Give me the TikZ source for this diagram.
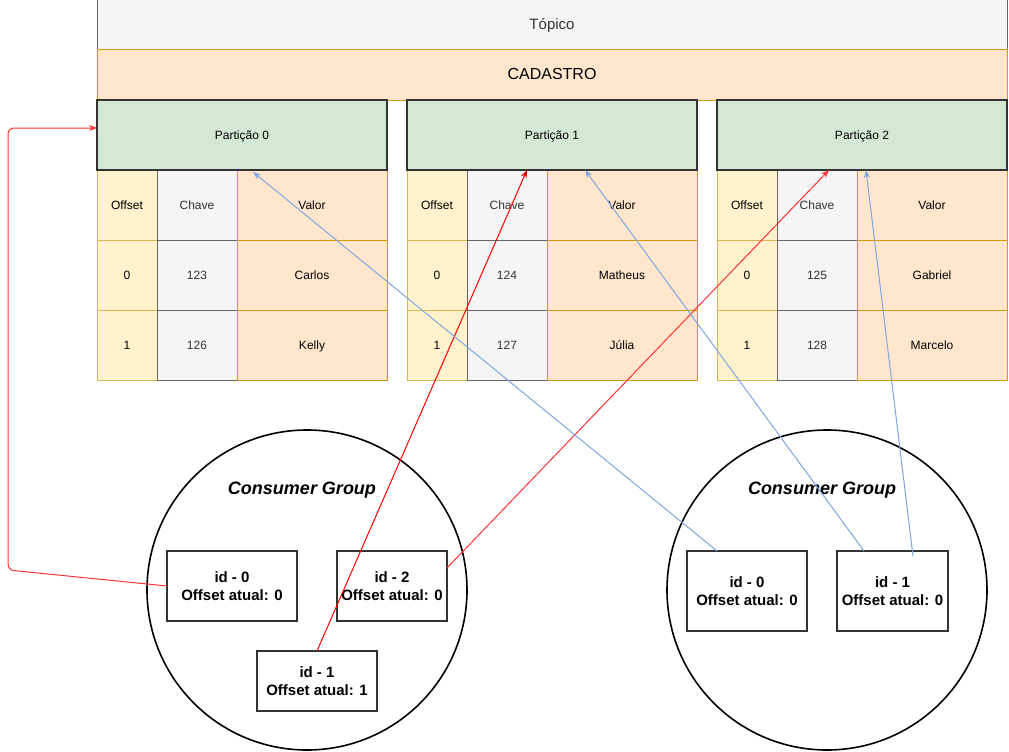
\documentclass[tikz,border=0pt]{standalone}
\usepackage{fontspec}
\setmainfont{Liberation Sans}
\usetikzlibrary{arrows.meta}
\definecolor{grayfill}{HTML}{F5F5F5}
\definecolor{graydraw}{HTML}{666666}
\definecolor{graytext}{HTML}{333333}
\definecolor{orfill}{HTML}{FFE6CC}
\definecolor{ordraw}{HTML}{D79B00}
\definecolor{yefill}{HTML}{FFF2CC}
\definecolor{yedraw}{HTML}{D6B656}
\definecolor{grfill}{HTML}{D5E8D4}
\definecolor{darkb}{HTML}{333333}
\definecolor{bluel}{HTML}{7EA6E0}
\definecolor{redl}{HTML}{FF3333}
\definecolor{redd}{HTML}{E00000}
\tikzset{
  fs/.style={font=\fontsize{#1pt}{#1pt}\selectfont, text height=0.82em, text depth=0pt},
  base/.style={inner sep=0pt, outer sep=0pt, line width=1pt, anchor=center},
  topbox/.style={base, fill=grayfill, draw=graydraw, text=graytext, fs=15, minimum width=910pt, minimum height=50pt},
  cadbox/.style={base, fill=orfill, draw=ordraw, text=black, fs=16, minimum width=910pt, minimum height=50pt},
  partbox/.style={base, fill=grfill, draw=darkb, line width=1.6pt, fs=12, minimum width=290pt, minimum height=70pt},
  cellO/.style={base, fill=yefill, draw=yedraw, fs=12, minimum width=60pt, minimum height=70pt},
  cellK/.style={base, fill=grayfill, draw=graydraw, text=graytext, fs=12, minimum width=80pt, minimum height=70pt},
  cellV/.style={base, fill=orfill, draw=ordraw, fs=12, minimum width=150pt, minimum height=70pt},
  group/.style={circle, draw=black, line width=1.6pt, minimum size=320pt, inner sep=0pt},
  grouptitle/.style={font=\fontsize{18pt}{18pt}\selectfont\bfseries\itshape, inner sep=0pt, text height=0.82em, text depth=0pt},
  cons/.style={base, draw=darkb, fill=white, line width=1.6pt, align=center, font=\fontsize{15pt}{18pt}\selectfont\bfseries},
  redarrow/.style={draw=redl, line width=1pt, -{Stealth[length=8pt,width=6pt]}},
  darkredarrow/.style={draw=red, line width=1pt, -{Stealth[length=8pt,width=6pt,color=redd]}},
  bluearrow/.style={draw=bluel, line width=1pt, -{Stealth[length=8pt,width=6pt]}},
}
\begin{document}
\begin{tikzpicture}[x=1pt,y=-1pt]
\useasboundingbox (0,0) rectangle (1009,752);
\fill[white] (0,0) rectangle (1009,752);
\node[topbox] (topico) at (552,25) {Tópico};
\node[cadbox] (cad) at (552,75) {CADASTRO};
\foreach \i/\x/\ka/\va/\kb/\vb in {0/97/123/Carlos/126/Kelly, 1/407/124/Matheus/127/Júlia, 2/717/125/Gabriel/128/Marcelo}{
  \node[cellO] (o\i h) at ({\x+30},205) {Offset};
  \node[cellK] (k\i h) at ({\x+100},205) {Chave};
  \node[cellV] (v\i h) at ({\x+215},205) {Valor};
  \node[cellO] (o\i a) at ({\x+30},275) {0};
  \node[cellK] (k\i a) at ({\x+100},275) {\ka};
  \node[cellV] (v\i a) at ({\x+215},275) {\va};
  \node[cellO] (o\i b) at ({\x+30},345) {1};
  \node[cellK] (k\i b) at ({\x+100},345) {\kb};
  \node[cellV] (v\i b) at ({\x+215},345) {\vb};
  \node[partbox] (p\i) at ({\x+145},135) {Partição \i};
}
% consumer groups
\node[group] (g1) at (307,590) {};
\node[group] (g2) at (827,590) {};
\node[grouptitle] (t1) at (302,490) {Consumer Group};
\node[grouptitle] (t2) at (822,490) {Consumer Group};
\node[cons, minimum width=130pt, minimum height=70pt] (a0) at (232,586) {id - 0\\Offset atual: 0};
\node[cons, minimum width=110pt, minimum height=70pt] (a2) at (392,586) {id - 2\\Offset atual: 0};
\node[cons, minimum width=120pt, minimum height=60pt] (a1) at (317,681) {id - 1\\Offset atual: 1};
\node[cons, minimum width=120pt, minimum height=80pt] (b0) at (747,591) {id - 0\\Offset atual: 0};
\node[cons, minimum width=111pt, minimum height=80pt] (b1) at (892.5,591) {id - 1\\Offset atual: 0};
% connectors
\coordinate (lc1) at (8,570);
\coordinate (lc2) at (8,128);
\draw[redarrow, rounded corners=6pt] (a0.west) -- (lc1) -- (lc2) -- ([yshift=7pt]p0.west);
\draw[darkredarrow] (a1.north) -- ([xshift=-25pt]p1.south);
\draw[redarrow] ([yshift=18pt]a2.east) -- ([xshift=-33pt]p2.south);
\draw[bluearrow] ([xshift=-30pt]b0.north) -- ([xshift=11pt,yshift=-2pt]p0.south);
\draw[bluearrow] ([xshift=-28.5pt]b1.north) -- ([xshift=33pt]p1.south);
\draw[bluearrow] ([xshift=20.5pt,yshift=-5pt]b1.north) -- ([xshift=4pt]p2.south);
\end{tikzpicture}
\end{document}
